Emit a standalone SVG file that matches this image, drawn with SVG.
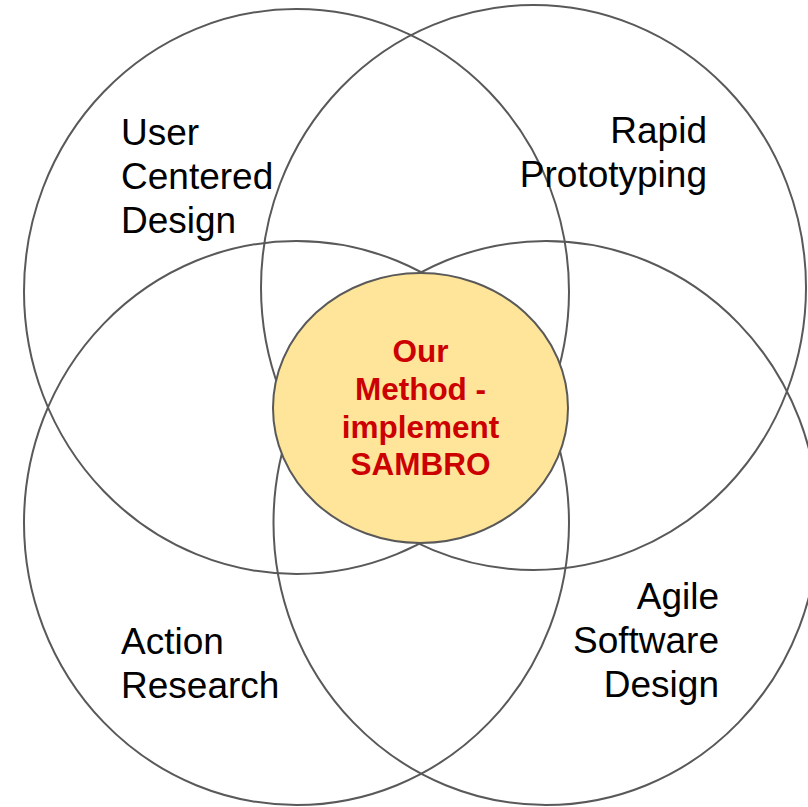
<svg xmlns="http://www.w3.org/2000/svg" width="808" height="807" viewBox="0 0 808 807">
  <style>
    .ring { fill: none; stroke: #595959; stroke-width: 2; }
    .core { fill: #ffe599; stroke: #595959; stroke-width: 2; }
    .label { font-family: "Liberation Sans", Arial, sans-serif; font-size: 37px; fill: #000000; }
    .core-label { font-family: "Liberation Sans", Arial, sans-serif; font-size: 31.5px; font-weight: bold; fill: #cc0000; text-anchor: middle; }
  </style>
  <rect width="808" height="807" fill="#ffffff"/>

  <g id="user-centered-design">
    <ellipse class="ring" cx="296.5" cy="291.5" rx="272.5" ry="282.5"/>
    <text class="label" x="121" y="145">User</text>
    <text class="label" x="121" y="189">Centered</text>
    <text class="label" x="121" y="233">Design</text>
  </g>

  <g id="rapid-prototyping">
    <ellipse class="ring" cx="533.5" cy="287.5" rx="272.5" ry="282.5"/>
    <text class="label" x="707" y="143" text-anchor="end">Rapid</text>
    <text class="label" x="707" y="187" text-anchor="end">Prototyping</text>
  </g>

  <g id="action-research">
    <ellipse class="ring" cx="296.5" cy="523" rx="272.5" ry="282"/>
    <text class="label" x="121" y="654">Action</text>
    <text class="label" x="121" y="698">Research</text>
  </g>

  <g id="agile-software-design">
    <ellipse class="ring" cx="546" cy="523" rx="272.5" ry="282"/>
    <text class="label" x="719" y="609" text-anchor="end">Agile</text>
    <text class="label" x="719" y="653" text-anchor="end">Software</text>
    <text class="label" x="719" y="697" text-anchor="end">Design</text>
  </g>

  <g id="our-method">
    <ellipse class="core" cx="420.5" cy="408" rx="147.5" ry="135"/>
    <text class="core-label" x="420.5" y="362">Our</text>
    <text class="core-label" x="420.5" y="400">Method -</text>
    <text class="core-label" x="420.5" y="438">implement</text>
    <text class="core-label" x="420.5" y="475">SAMBRO</text>
  </g>
</svg>
